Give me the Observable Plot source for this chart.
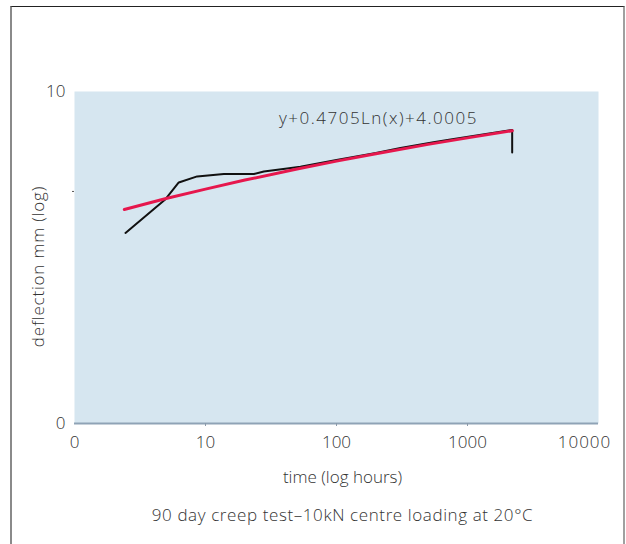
<!DOCTYPE html>
<html>
<head>
<meta charset="utf-8">
<script src="https://cdn.jsdelivr.net/npm/d3@7"></script>
<script src="https://cdn.jsdelivr.net/npm/@observablehq/plot@0.6"></script>
<style>
  html, body { margin: 0; padding: 0; background: #fff; }
  #wrap { position: relative; width: 626px; height: 544px; overflow: hidden; }
  #border { position: absolute; left: 10px; top: 6px; width: 611px; height: 600px;
            border-top: 1px solid #222; border-left: 2px solid #8a8a8a; border-right: 2px solid #a0a0a0; }
  #chart { position: absolute; left: 0; top: 0; }
</style>
</head>
<body>
<div id="wrap">
  <div id="border"></div>
  <div id="chart"></div>
</div>
<script>
// Tick values and labels
const xTicks = [1, 10, 100, 1000, 10000];
const xTickLabels = ["0", "10", "100", "1000", "10000"];
const xTickMarks = [10, 100, 1000];
const yTicks = [1, 10];
const yTickLabels = ["0", "10"];
const yTickMarks = [5];

// Logarithmic trend line
const trendX = [2.4, 5, 10, 20, 50, 100, 200, 500, 1000, 2200];
const trendY = [4.41, 4.76, 5.08, 5.41, 5.84, 6.17, 6.49, 6.93, 7.25, 7.62];

const creepX = [2.45, 4.95, 6.25, 8.64, 13.8, 23.4, 27.9, 42, 53, 100, 200, 308, 550, 764, 2193, 2193];
const creepY = [3.75, 4.74, 5.32, 5.55, 5.64, 5.64, 5.74, 5.86, 5.93, 6.22, 6.53, 6.76, 7.03, 7.18, 7.66, 6.55];

// Equation annotation
const eqText = "y+0.4705Ln(x)+4.0005";
const eqX = 209;
const eqY = 8.27;

const xLabel = "time (log hours)";
const yLabel = "deflection mm (log)";
const caption = "90 day creep test\u201310kN centre loading at 20\u00b0C";

const trend = trendX.map((x, i) => ({x, y: trendY[i]}));
const creep = creepX.map((x, i) => ({x, y: creepY[i]}));
const xt = xTicks.map((v, i) => ({v, label: xTickLabels[i]}));
const yt = yTicks.map((v, i) => ({v, label: yTickLabels[i]}));

const font = {fontSize: 17, fontWeight: 300, fill: "#333"};

const chart = Plot.plot({
  width: 626,
  height: 544,
  marginLeft: 74,
  marginRight: 28,
  marginTop: 91,
  marginBottom: 121,
  style: {background: "transparent", fontFamily: "'Open Sans', Lato, sans-serif", fontSize: "17px"},
  x: {type: "log", domain: [1, 10000], axis: null},
  y: {type: "log", domain: [1, 10], axis: null},
  marks: [
    Plot.frame({fill: "#d6e6f0", stroke: null}),
    Plot.ruleY([1], {stroke: "#8fa3b6", strokeWidth: 2}),
    Plot.axisX({ticks: xTickMarks, tickSize: 3, tickFormat: () => "", label: null, stroke: "#8a9aaa"}),
    Plot.axisY({ticks: yTickMarks, tickSize: 2, tickFormat: () => "", label: null, stroke: "#555"}),
    Plot.text(xt.slice(0, 4), {x: "v", text: "label", frameAnchor: "bottom", lineAnchor: "middle", dy: 19, ...font}),
    Plot.text(xt.slice(4), {x: "v", text: "label", frameAnchor: "bottom", lineAnchor: "middle", dy: 19, dx: -14, ...font}),
    Plot.text(yt, {y: "v", text: "label", frameAnchor: "left", textAnchor: "end", lineAnchor: "middle", dx: -9, ...font}),
    Plot.text([xLabel], {frameAnchor: "bottom", lineAnchor: "middle", dy: 54, dx: 6, ...font}),
    Plot.text([caption], {frameAnchor: "bottom", lineAnchor: "middle", dy: 92, dx: 6, ...font}),
    Plot.text([yLabel], {frameAnchor: "left", textAnchor: "middle", rotate: -90, lineAnchor: "middle", dx: -36, dy: 9, ...font}),
    Plot.line(creep, {x: "x", y: "y", stroke: "#111", strokeWidth: 2}),
    Plot.line(trend, {x: "x", y: "y", stroke: "#e6174d", strokeWidth: 3}),
    Plot.text([eqText], {x: () => eqX, y: () => eqY, lineAnchor: "middle", ...font})
  ]
});
const spacing = new Map([[yLabel, "0.8px"], [eqText, "1.5px"], [caption, "0.6px"], ["10000", "1px"]]);
d3.select(chart).selectAll("text").each(function() {
  const s = spacing.get(this.textContent);
  if (s) d3.select(this).style("letter-spacing", s);
});
document.getElementById("chart").appendChild(chart);
</script>
</body>
</html>
